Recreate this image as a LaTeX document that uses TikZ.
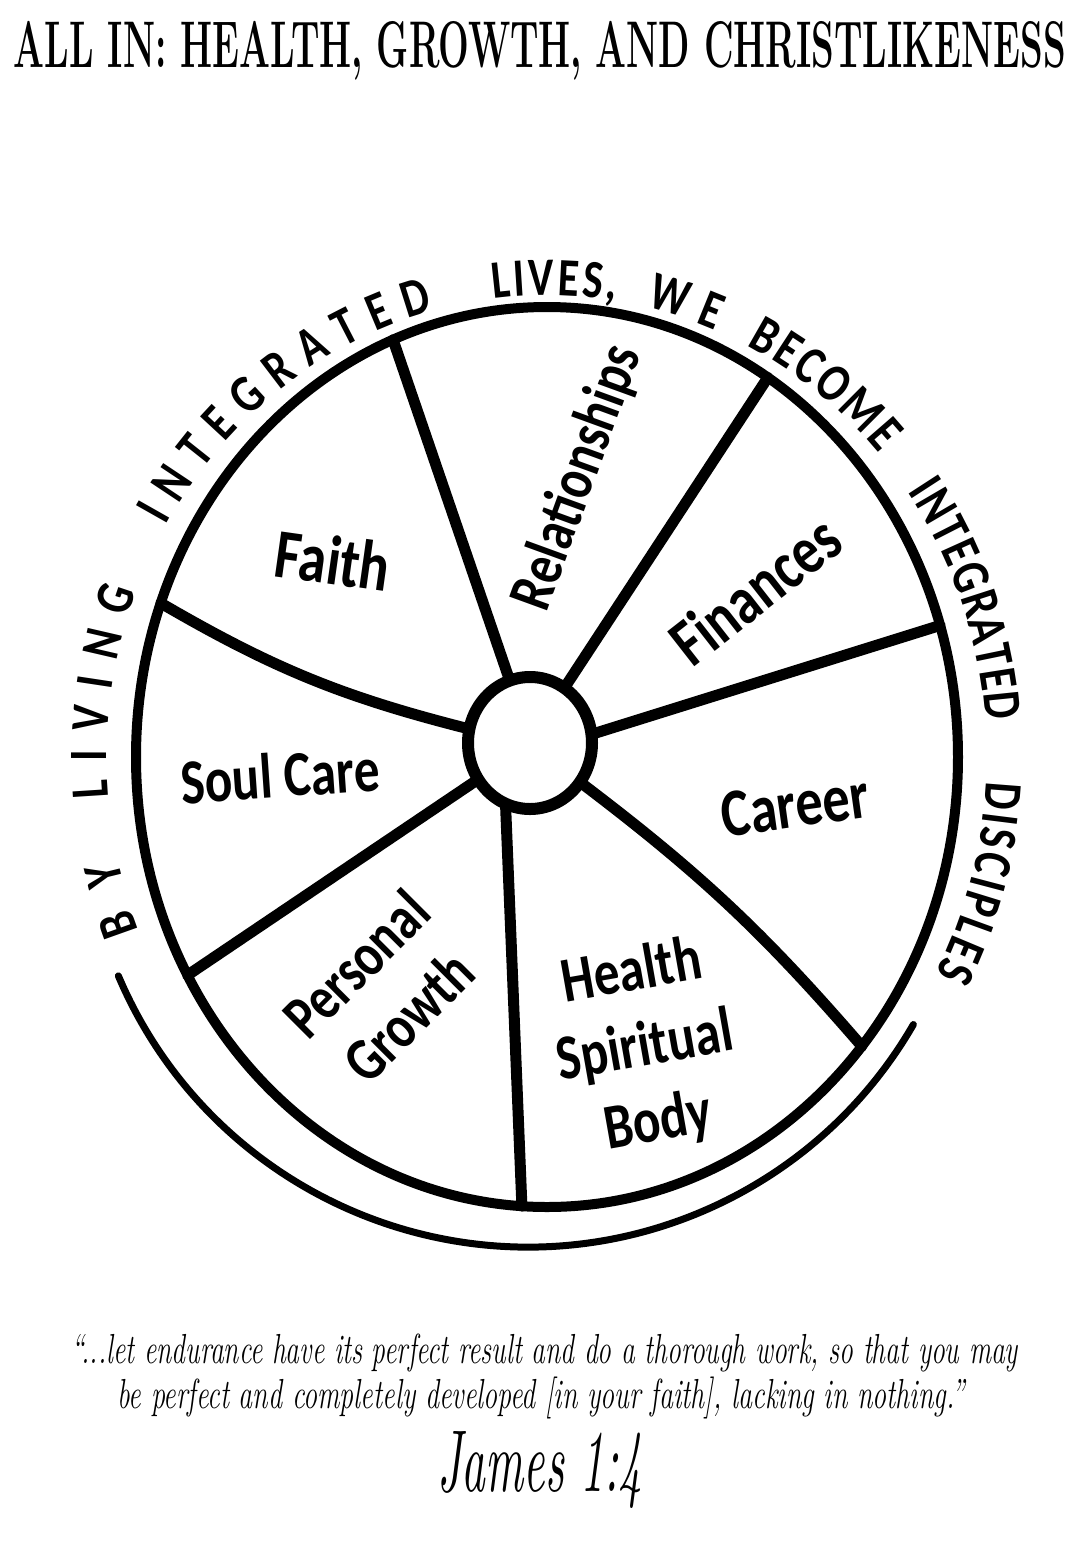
\documentclass[tikz,border=0pt]{standalone}
\usepackage{fontspec}
\newfontfamily\handfont[FakeStretch=0.8]{Carlito}
\usetikzlibrary{calc, decorations.text, shapes.geometric}
\newcommand\ringfont{\handfont\bfseries\fontsize{54}{54}\selectfont}
\tikzset{
    rim/.style={line width=10pt},
    spoke/.style={line width=11pt, line cap=round},
    hub/.style={ellipse, draw, line width=12pt, minimum width=124pt, minimum height=132pt, inner sep=0pt, outer sep=0pt},
    hand/.style 2 args={font=\handfont\bfseries\fontsize{#1}{#2}\selectfont, align=center},
    ringword/.style={decorate, decoration={text along path, text align={fit to path}, text={|\ringfont|#1}}}
}

\begin{document}
\begin{tikzpicture}[x=1pt, y=1pt]
    \useasboundingbox (0,0) rectangle (1080,-1559);
    \fill[white] (0,0) rectangle (1080,-1559);

    \node[anchor=base] (title) at (540,-67) {\resizebox{1052pt}{\height}{\fontsize{66}{66}\selectfont\bfseries ALL IN: HEALTH, GROWTH, AND CHRISTLIKENESS}};

    % wheel
    \coordinate (c) at (547,-757);
    \draw[rim] (c) ellipse [x radius=411, y radius=450];
    \node[hub] (hub) at (530,-743) {};
    \foreach \n/\t in {a/112, b/57.5, c/17, d/-40, e/-93.5, f/209, g/160}
        \coordinate (rim\n) at ($(c)+(\t:411 and 450)$);
    \draw[spoke] (hub.108) -- (rima);
    \draw[spoke] (hub.58) -- (rimb);
    \draw[spoke] (hub.8) -- (rimc);
    \draw[spoke] (hub.-38) to[bend left=6] (rimd);
    \draw[spoke] (hub.-112) -- (rime);
    \draw[spoke] (hub.215) -- (rimf);
    \draw[spoke] (hub.167) to[bend left=8] (rimg);
    \draw[line width=7pt, line cap=round] (528,-802) ++(203:445) arc[start angle=203, end angle=330, radius=445];

    % words round the rim
    \path[ringword=BY] ($(c)+(202:440 and 462)$) arc[start angle=202, end angle=193, x radius=440, y radius=462];
    \path[ringword=LIVING] ($(c)+(185:440 and 462)$) arc[start angle=185, end angle=159, x radius=440, y radius=462];
    \path[ringword=INTEGRATED] ($(c)+(150:440 and 462)$) arc[start angle=150, end angle=105, x radius=440, y radius=462];
    \path[ringword={LIVES,}] ($(c)+(97:440 and 462)$) arc[start angle=97, end angle=81, x radius=440, y radius=462];
    \path[ringword=WE] ($(c)+(77:440 and 462)$) arc[start angle=77, end angle=67.5, x radius=440, y radius=462];
    \path[ringword=BECOME] ($(c)+(63:440 and 462)$) arc[start angle=63, end angle=41, x radius=440, y radius=462];
    \path[ringword=INTEGRATED] ($(c)+(35:440 and 462)$) arc[start angle=35, end angle=4.5, x radius=440, y radius=462];
    \path[ringword=DISCIPLES] ($(c)+(-3:440 and 462)$) arc[start angle=-3, end angle=-28, x radius=440, y radius=462];

    % the seven areas
    \node[hand={70}{76}, rotate=-8] (faith) at (333,-560) {Faith};
    \node[hand={62}{70}, rotate=70] (relationships) at (578,-478) {Relationships};
    \node[hand={68}{78}, rotate=38] (finances) at (755,-590) {Finances};
    \node[hand={64}{70}, rotate=4] (soulcare) at (280,-775) {Soul Care};
    \node[hand={68}{74}, rotate=8] (career) at (795,-805) {Career};
    \node[hand={62}{74}, rotate=45] (growth) at (382,-990) {Personal\\Growth};
    \node[hand={64}{76}, rotate=10] (health) at (645,-1048) {Health\\Spiritual\\Body};

    % verse
    \node[anchor=base] (quoteA) at (545,-1363) {\resizebox{946pt}{\height}{\fontsize{42}{42}\selectfont\itshape “...let endurance have its perfect result and do a thorough work, so that you may}};
    \node[anchor=base] (quoteB) at (541,-1408) {\resizebox{847pt}{\height}{\fontsize{42}{42}\selectfont\itshape be perfect and completely developed [in your faith], lacking in nothing.”}};
    \node (james) at (540,-1470) {\resizebox{205pt}{60pt}{\itshape James 1:4}};
\end{tikzpicture}
\end{document}
